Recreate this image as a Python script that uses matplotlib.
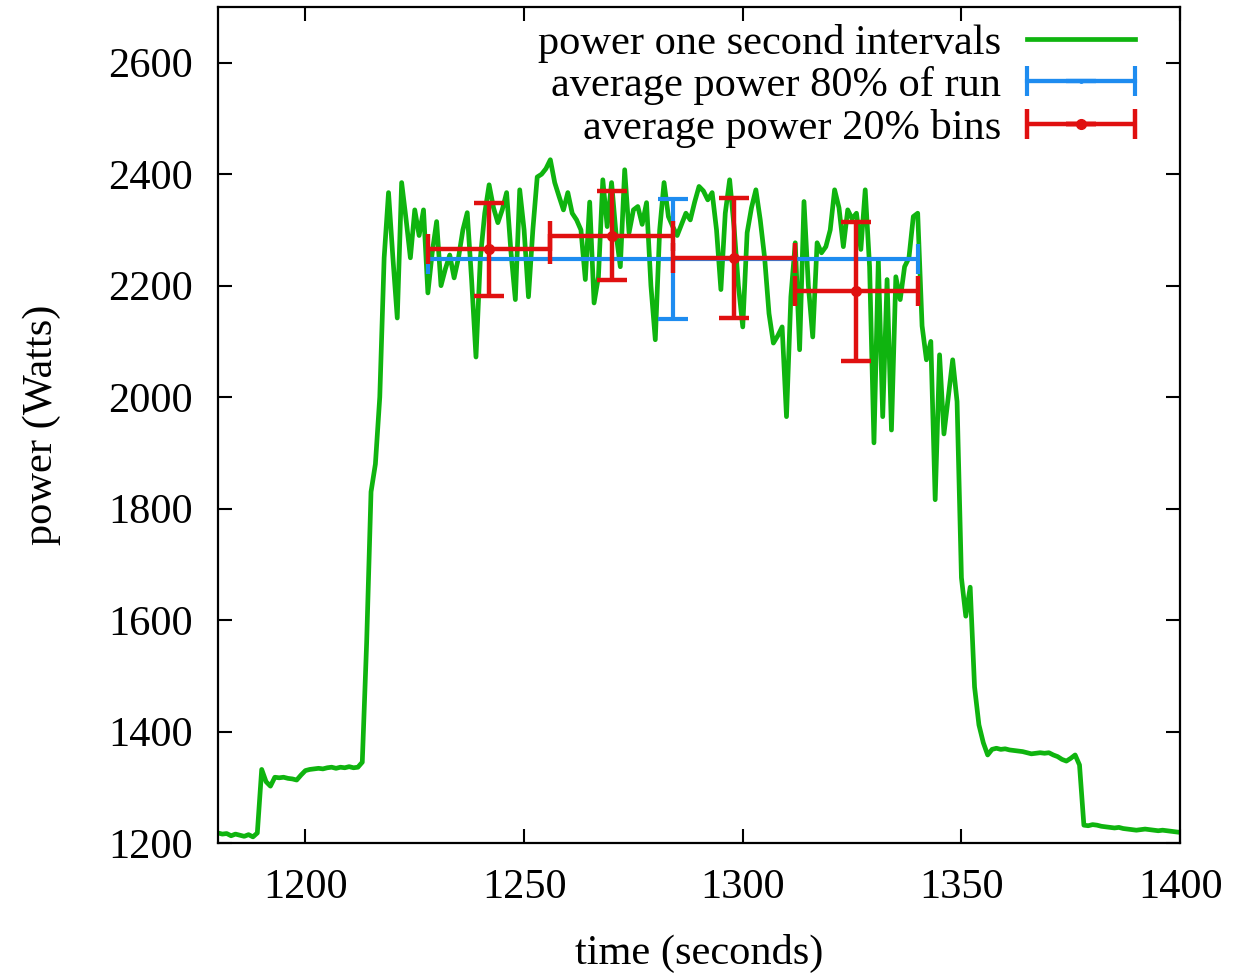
#!/usr/bin/env python

import matplotlib
matplotlib.use("Agg")
import matplotlib.pyplot as plt
from matplotlib.legend_handler import HandlerErrorbar

# power samples, one per second
time_s = list(range(1180, 1401))
power_w = [
    1218, 1216, 1217, 1213, 1216, 1214, 1212, 1215, 1211, 1218,  # 1180
    1332, 1310, 1302, 1318, 1317, 1318, 1316, 1315, 1313, 1322,  # 1190
    1330, 1332, 1333, 1334, 1333, 1335, 1336, 1334, 1336, 1335,  # 1200
    1337, 1335, 1336, 1345, 1560, 1830, 1880, 2000, 2250, 2367,  # 1210
    2250, 2142, 2385, 2320, 2250, 2336, 2290, 2336, 2187, 2260,  # 1220
    2315, 2200, 2230, 2255, 2214, 2250, 2300, 2331, 2210, 2072,  # 1230
    2250, 2330, 2381, 2340, 2313, 2336, 2367, 2260, 2175, 2372,  # 1240
    2300, 2180, 2300, 2395, 2400, 2410, 2426, 2385, 2360, 2336,  # 1250
    2367, 2330, 2318, 2300, 2211, 2350, 2169, 2216, 2390, 2306,  # 1260
    2385, 2295, 2234, 2408, 2295, 2336, 2342, 2310, 2349, 2200,  # 1270
    2103, 2300, 2385, 2324, 2306, 2290, 2310, 2330, 2318, 2350,  # 1280
    2378, 2370, 2354, 2367, 2300, 2193, 2330, 2390, 2306, 2200,  # 1290
    2126, 2295, 2340, 2372, 2318, 2250, 2150, 2097, 2110, 2126,  # 1300
    1965, 2180, 2277, 2085, 2351, 2200, 2108, 2277, 2259, 2270,  # 1310
    2300, 2372, 2340, 2270, 2336, 2320, 2330, 2265, 2372, 2234,  # 1320
    1918, 2246, 1965, 2211, 1941, 2216, 2175, 2234, 2250, 2324,  # 1330
    2330, 2128, 2067, 2100, 1816, 2076, 1934, 2000, 2067, 1992,  # 1340
    1676, 1607, 1659, 1480, 1412, 1380, 1358, 1368, 1370, 1368,  # 1350
    1369, 1367, 1366, 1365, 1364, 1362, 1360, 1361, 1362, 1361,  # 1360
    1362, 1358, 1355, 1350, 1347, 1352, 1358, 1340, 1232, 1231,  # 1370
    1233, 1232, 1230, 1229, 1228, 1227, 1228, 1226, 1225, 1224,  # 1380
    1223, 1224, 1225, 1224, 1223, 1222, 1223, 1222, 1221, 1220,  # 1390
    1219,                                                        # 1400
]

# average over 80% of the run
avg80_t = [1284]
avg80_p = [2248]
avg80_terr = [56]
avg80_perr = [107]

# averages over 20% bins
bin_t = [1242, 1270, 1298, 1326]
bin_p = [2265, 2290, 2250, 2190]
bin_terr = [14, 14, 14, 14]
bin_perr = [83, 80, 108, 125]

plt.rcParams["font.family"] = ["Liberation Serif", "DejaVu Serif"]
plt.rcParams["font.size"] = 30.5

fig = plt.figure(figsize=(12.37, 9.73), dpi=100)
ax = fig.add_axes([0.1762, 0.1336, 0.7778, 0.8592])

green = "#0fb40f"
blue = "#1e8cf0"
red = "#e01010"

ax.plot(time_s, power_w, color=green, linewidth=3.4, label="power one second intervals", zorder=2)
ax.errorbar(avg80_t, avg80_p, xerr=avg80_terr, yerr=avg80_perr, color=blue, linewidth=3.0,
            capsize=11, capthick=3.0, marker=".", markersize=5, label="average power 80% of run", zorder=3)
ax.errorbar(bin_t, bin_p, xerr=bin_terr, yerr=bin_perr, color=red, linewidth=3.2, linestyle="none",
            capsize=11, capthick=3.2, marker="o", markersize=7, label="average power 20% bins", zorder=4)

ax.set_xlim(1180, 1400)
ax.set_ylim(1200, 2700)
ax.set_xticks([1200, 1250, 1300, 1350, 1400])
ax.set_yticks([1200, 1400, 1600, 1800, 2000, 2200, 2400, 2600])
ax.tick_params(direction="in", length=10, width=1.5, top=True, right=True)
ax.tick_params(axis="y", pad=18)
ax.tick_params(axis="x", pad=18)
for s in ax.spines.values():
    s.set_linewidth(1.6)

ax.set_xlabel("time (seconds)", labelpad=20)
ax.set_ylabel("power (Watts)", labelpad=34)

leg = ax.legend(loc="upper right", bbox_to_anchor=(0.953, 0.98), frameon=False, markerfirst=False,
                handlelength=2.55, handletextpad=0.6, labelspacing=0.08, borderaxespad=0, borderpad=0,
                handler_map={matplotlib.container.ErrorbarContainer: HandlerErrorbar(xerr_size=1.27, yerr_size=0)})

fig.savefig("out.png", dpi=100)
plt.close()
